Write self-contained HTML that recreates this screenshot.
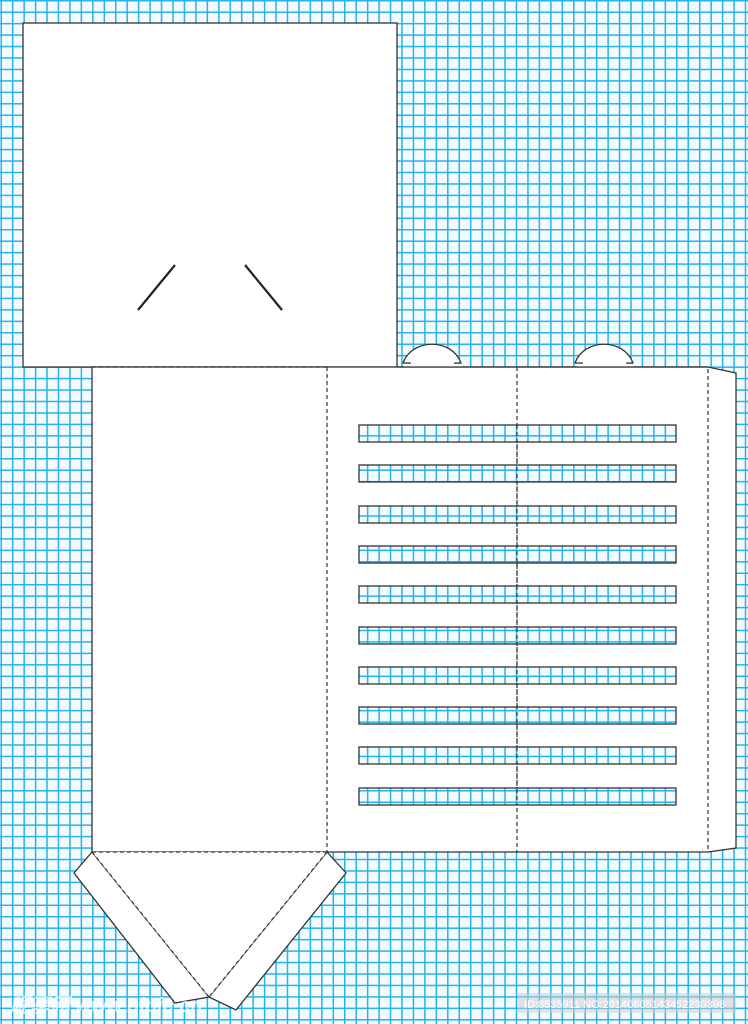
<!DOCTYPE html>
<html><head><meta charset="utf-8"><style>
html,body{margin:0;padding:0;background:#fff}
svg{display:block}
</style></head><body>
<svg width="748" height="1024" viewBox="0 0 748 1024" xmlns="http://www.w3.org/2000/svg">
<defs>
<pattern id="g" x="0.5" y="0" width="11.45" height="11.45" patternUnits="userSpaceOnUse">
<rect width="11.45" height="11.45" fill="#f4fbfe"/>
<rect x="0" y="0" width="1.5" height="11.45" fill="#25b3ea"/>
<rect x="0" y="0" width="11.45" height="1.5" fill="#25b3ea"/>
</pattern>
</defs>
<rect width="748" height="1024" fill="url(#g)"/>
<g stroke="#333" stroke-width="1.3" fill="#fff">
<rect x="23" y="23" width="374" height="344"/>
<path d="M403,363 C412,338 452,338 461,363 L455,363 L455,367 L410,367 L410,363 Z"/>
<path d="M575,363 C584,338 624,338 633,363 L627,363 L627,367 L582,367 L582,363 Z"/>
<polygon points="92,367 708,367 736,373 736,848 708,852 92,852"/>
<polygon points="92,852 74,873 175,1003 209,997"/>
<polygon points="327,852 346,873 236,1010 209,997"/>
<polygon points="92,852 327,852 209,997" stroke="none"/>
</g>
<rect x="404" y="364" width="58" height="2.5" fill="#fff"/>
<rect x="576" y="364" width="58" height="2.5" fill="#fff"/>
<g stroke="#333" stroke-width="1.3">
<line x1="397" y1="367" x2="708" y2="367"/>
</g>
<g stroke="#333" stroke-width="1.2" stroke-dasharray="4,3" fill="none">
<line x1="92" y1="367" x2="327" y2="367"/>
<line x1="327" y1="367" x2="327" y2="852"/>
<line x1="517" y1="367" x2="517" y2="852"/>
<line x1="708" y1="369" x2="708" y2="852"/>
<line x1="92" y1="852" x2="327" y2="852"/>
<line x1="92" y1="852" x2="209" y2="997"/>
<line x1="327" y1="852" x2="209" y2="997"/>
</g>
<g stroke="#333" stroke-width="1.3" fill="url(#g)">
<rect x="359" y="425" width="317" height="17"/>
<rect x="359" y="465" width="317" height="17"/>
<rect x="359" y="506" width="317" height="17"/>
<rect x="359" y="546" width="317" height="17"/>
<rect x="359" y="586" width="317" height="17"/>
<rect x="359" y="627" width="317" height="17"/>
<rect x="359" y="667" width="317" height="17"/>
<rect x="359" y="707" width="317" height="17"/>
<rect x="359" y="747" width="317" height="17"/>
<rect x="359" y="788" width="317" height="17"/>
</g>
<g stroke="#333" stroke-width="1.2" stroke-dasharray="4,3">
<line x1="517" y1="425" x2="517" y2="805"/>
</g>
<g stroke="#222" stroke-width="2.2">
<line x1="138" y1="310" x2="175" y2="265"/>
<line x1="245" y1="265" x2="282" y2="310"/>
</g>
<text x="10" y="1012" font-family="Liberation Sans, Noto Sans CJK SC, sans-serif" font-size="20" font-style="italic" font-weight="bold" fill="#fff" opacity="0.7">昵享网 www.nipic.cn</text>
<rect x="518" y="993" width="218" height="20" fill="#ccc" opacity="0.5"/>
<text x="524" y="1008" font-family="Liberation Sans, sans-serif" font-size="11" fill="#fff">ID:8535911 NO:20140605143452230398</text>
</svg>
</body></html>
